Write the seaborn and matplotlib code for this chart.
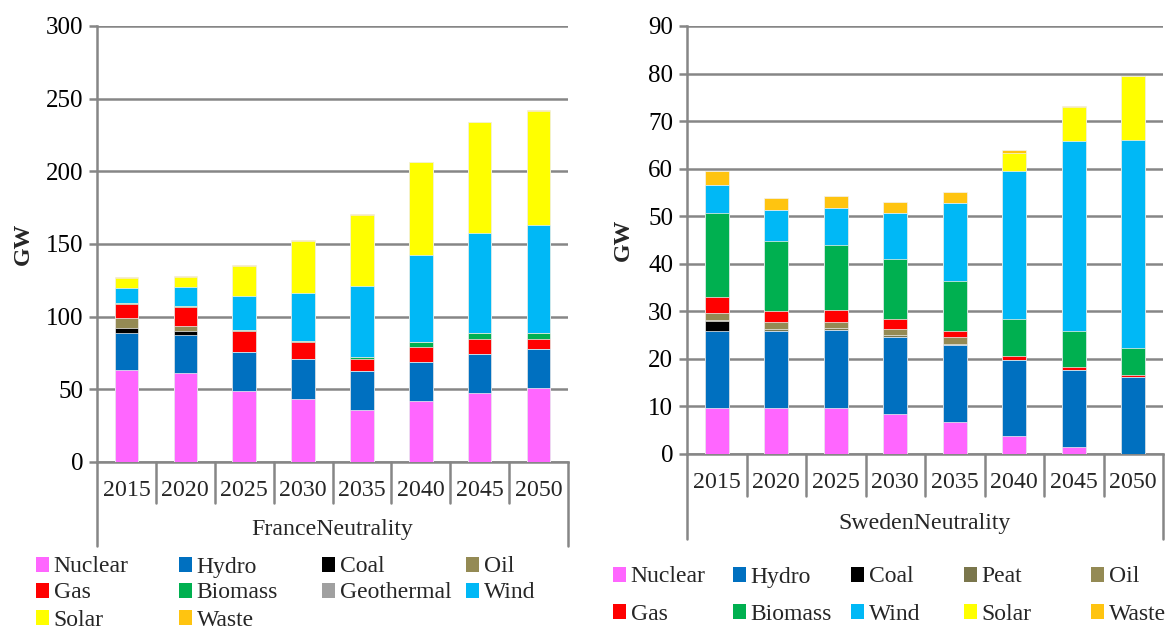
import numpy as np
import pandas as pd
import matplotlib
matplotlib.use("Agg")
import matplotlib.pyplot as plt
import seaborn as sns
from matplotlib.patches import Patch
from matplotlib.transforms import blended_transform_factory

# ---------------- data ----------------
years = ["2015", "2020", "2025", "2030", "2035", "2040", "2045", "2050"]

france_sources = ["Nuclear", "Hydro", "Coal", "Oil", "Gas", "Biomass",
                  "Geothermal", "Wind", "Solar", "Waste"]
fr_nuclear = [63.0, 61.1, 48.6, 43.5, 35.6, 41.7, 47.7, 51.2]
fr_hydro = [26.1, 26.2, 27.1, 27.3, 27.1, 26.8, 26.8, 26.6]
fr_coal = [3.0, 3.0, 0, 0, 0, 0, 0, 0]
fr_oil = [6.7, 3.2, 0.3, 0, 0, 0, 0, 0]
fr_gas = [10.0, 13.4, 14.1, 11.8, 8.4, 10.7, 10.0, 6.5]
fr_biomass = [0.3, 0.5, 0.7, 0.7, 1.1, 3.4, 4.2, 4.8]
fr_geothermal = [0, 0, 0, 0, 0, 0, 0, 0]
fr_wind = [10.6, 13.0, 23.2, 33.1, 48.6, 59.5, 68.6, 73.7]
fr_solar = [7.0, 7.2, 21.0, 35.7, 49.4, 64.1, 76.4, 78.9]
fr_waste = [0.5, 0.5, 0.5, 0.5, 0.5, 0.5, 0.5, 0.5]

sweden_sources = ["Nuclear", "Hydro", "Coal", "Peat", "Oil", "Gas",
                  "Biomass", "Wind", "Solar", "Waste"]
se_nuclear = [9.7, 9.7, 9.7, 8.5, 6.8, 3.7, 1.4, 0]
se_hydro = [16.2, 16.1, 16.3, 16.2, 16.1, 16.1, 16.3, 16.1]
se_coal = [2.0, 0.1, 0.1, 0, 0, 0, 0, 0]
se_peat = [0.3, 0.3, 0.3, 0.3, 0.3, 0, 0, 0]
se_oil = [1.5, 1.5, 1.4, 1.2, 1.3, 0, 0, 0]
se_gas = [3.4, 2.4, 2.4, 2.1, 1.3, 0.8, 0.5, 0.6]
se_biomass = [17.5, 14.6, 13.7, 12.8, 10.5, 7.8, 7.6, 5.6]
se_wind = [5.9, 6.6, 7.9, 9.5, 16.4, 31.1, 40.1, 43.8]
se_solar = [0, 0, 0, 0, 0, 3.7, 7.1, 13.4]
se_waste = [3.1, 2.5, 2.5, 2.4, 2.4, 0.7, 0.1, 0]

fr_ticks = [0, 50, 100, 150, 200, 250, 300]
se_ticks = [0, 10, 20, 30, 40, 50, 60, 70, 80, 90]

colors = {
    "Nuclear": "#FF66FF", "Hydro": "#0070C0", "Coal": "#000000",
    "Peat": "#7A764C", "Oil": "#948A54", "Gas": "#FF0000",
    "Biomass": "#00B050", "Geothermal": "#A0A0A0", "Wind": "#00B8F6",
    "Solar": "#FFFF00", "Waste": "#FFC410",
}

france = pd.DataFrame(
    dict(zip(france_sources, [fr_nuclear, fr_hydro, fr_coal, fr_oil, fr_gas,
                              fr_biomass, fr_geothermal, fr_wind, fr_solar,
                              fr_waste])), index=years)
sweden = pd.DataFrame(
    dict(zip(sweden_sources, [se_nuclear, se_hydro, se_coal, se_peat, se_oil,
                              se_gas, se_biomass, se_wind, se_solar,
                              se_waste])), index=years)

# ---------------- style ----------------
sns.set_theme(style="white")
plt.rcParams["font.family"] = ["Liberation Serif", "DejaVu Serif"]
GRID = "#868686"
FS = 17.2
TFS = 18

W, H = 1169, 630
fig = plt.figure(figsize=(W / 100, H / 100), dpi=100)


def fy(py):
    return 1 - py / H


ax1 = fig.add_axes([97 / W, fy(462), (568 - 97) / W, (462 - 26) / H])
ax2 = fig.add_axes([687 / W, fy(454), (1163 - 687) / W, (454 - 26) / H])


def stacked(ax, df, sources, ticks, group, axis_py, sep_py, year_py,
            group_py, outer_py, ylabel_x):
    cum = df[sources].cumsum(axis=1)
    for src in reversed(sources):
        sns.barplot(x=list(df.index), y=cum[src].values, color=colors[src],
                    saturation=1, width=0.4, linewidth=0.5,
                    edgecolor="#F2F2F2", errorbar=None, ax=ax, zorder=3)
    ax.set_xlim(-0.5, len(df.index) - 0.5)
    ax.set_ylim(ticks[0], ticks[-1])
    ax.set_yticks(ticks)
    ax.set_yticklabels([str(t) for t in ticks], fontsize=TFS)
    ax.yaxis.grid(True, color=GRID, lw=1.8)
    ax.set_axisbelow(True)
    sns.despine(ax=ax)
    for s in ("left", "bottom"):
        ax.spines[s].set_color(GRID)
        ax.spines[s].set_linewidth(1.8)
    ax.tick_params(axis="y", left=True, length=6, width=1.8, color=GRID,
                   pad=4, labelcolor="black")
    ax.tick_params(axis="x", bottom=False, labelbottom=False)
    ax.set_xlabel("")
    ax.set_ylabel("GW", fontsize=FS, fontweight="bold")
    ax.yaxis.set_label_coords(ylabel_x, 0.5)

    tr = blended_transform_factory(ax.transData, fig.transFigure)
    n = len(df.index)
    for i, yr in enumerate(df.index):
        ax.text(i, fy(year_py), yr, transform=tr, ha="center", va="center",
                fontsize=FS)
    for i in range(1, n):
        ax.plot([i - 0.5, i - 0.5], [fy(axis_py), fy(sep_py)], transform=tr,
                color=GRID, lw=1.8, clip_on=False)
    for x in (-0.5, n - 0.5):
        ax.plot([x, x], [fy(axis_py), fy(outer_py)], transform=tr,
                color=GRID, lw=1.8, clip_on=False)
    ax.text((n - 1) / 2, fy(group_py), group, transform=tr, ha="center",
            va="center", fontsize=FS)


stacked(ax1, france, france_sources, fr_ticks, "FranceNeutrality",
        462, 503, 490, 530, 546, -0.135)
stacked(ax2, sweden, sweden_sources, se_ticks, "SwedenNeutrality",
        454, 496, 482, 523, 539, -0.112)


def legend_item(name, px, py):
    fig.legend(handles=[Patch(facecolor=colors[name], edgecolor="none")],
               labels=[name], loc="center left",
               bbox_to_anchor=(px / W, fy(py)), frameon=False, borderpad=0,
               borderaxespad=0, handlelength=0.55, handleheight=0.6,
               handletextpad=0.2, fontsize=17)


fr_leg_rows = [["Nuclear", "Hydro", "Coal", "Oil"],
               ["Gas", "Biomass", "Geothermal", "Wind"],
               ["Solar", "Waste"]]
fr_cols_x = [36, 179, 322, 466]
fr_rows_y = [567, 593, 620]
for r, row in enumerate(fr_leg_rows):
    for c, name in enumerate(row):
        legend_item(name, fr_cols_x[c], fr_rows_y[r])

se_leg_rows = [["Nuclear", "Hydro", "Coal", "Peat", "Oil"],
               ["Gas", "Biomass", "Wind", "Solar", "Waste"]]
se_cols_x = [613, 733, 851, 964, 1091]
se_rows_y = [577, 614]
for r, row in enumerate(se_leg_rows):
    for c, name in enumerate(row):
        legend_item(name, se_cols_x[c], se_rows_y[r])

fig.savefig("out.png", dpi=100)
